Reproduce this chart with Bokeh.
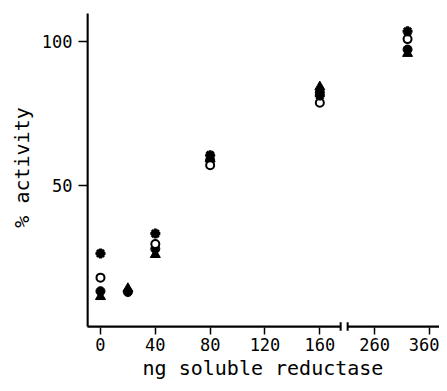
from bokeh.plotting import figure
from bokeh.models import Range1d, FixedTicker
from bokeh.embed import file_html
from bokeh.resources import INLINE

# ---- data (ng soluble reductase vs % activity) ----
ng_star = [0, 40, 80, 160, 320]
act_star = [26.4, 33.3, 60.5, 81.2, 103.5]

ng_open = [0, 40, 80, 160, 320]
act_open = [18.0, 29.7, 57.0, 78.7, 100.8]

ng_fcirc = [0, 20, 40, 80, 160, 320]
act_fcirc = [13.3, 13.0, 28.0, 58.8, 82.3, 97.2]

ng_tri = [0, 20, 40, 80, 160, 320]
act_tri = [11.4, 14.2, 26.0, 59.2, 84.2, 95.8]

tick_ng = [0, 40, 80, 120, 160, 260, 360]
y_ticks = [50, 100]

x_title = "ng soluble reductase"
y_title = "% activity"

# broken axis: values above the break are compressed
BREAK_LO_VAL = 160   # last value before the break
BREAK_HI_VAL = 260   # first value after the break
BREAK_POS = 200      # axis position of BREAK_HI_VAL
UPPER_SCALE = 0.4    # axis units per ng above the break
GAP = (175.2, 180.3) # axis positions of the break marks


def pos(v):
    if v <= BREAK_LO_VAL:
        return v
    return BREAK_POS + (v - BREAK_HI_VAL) * UPPER_SCALE


def posl(vals):
    return [pos(v) for v in vals]


FONT = "DejaVu Sans Mono"
X0, X1 = -10.2, 247.3
Y0, Y1 = -1.74, 114.2

p = figure(width=439, height=383, output_backend="svg", toolbar_location=None,
           x_range=Range1d(X0, X1), y_range=Range1d(Y0, Y1),
           min_border_left=86, min_border_right=0, min_border_top=0,
           min_border_bottom=49)
p.outline_line_color = None
p.grid.visible = False
p.background_fill_color = "white"
p.border_fill_color = "white"

# axes: labels and ticks from bokeh, lines drawn by hand (broken axis)
tick_pos = posl(tick_ng)
p.xaxis.ticker = FixedTicker(ticks=tick_pos)
p.xaxis.major_label_overrides = {tp: str(t) for tp, t in zip(tick_pos, tick_ng)}
p.xaxis.axis_line_color = None
p.xaxis.major_tick_in = 7
p.xaxis.major_tick_out = 0
p.xaxis.major_tick_line_width = 1.5
p.xaxis.minor_tick_line_color = None
p.xaxis.major_label_standoff = 3
p.xaxis.axis_label = x_title
p.xaxis.axis_label_standoff = 2

p.yaxis.ticker = FixedTicker(ticks=y_ticks)
p.yaxis.axis_line_color = None
p.yaxis.major_tick_in = 1
p.yaxis.major_tick_out = 8
p.yaxis.major_tick_line_width = 1.5
p.yaxis.minor_tick_line_color = None
p.yaxis.major_label_standoff = 6
p.yaxis.axis_label = y_title
p.yaxis.axis_label_standoff = 5

for ax in (p.xaxis, p.yaxis):
    ax.major_label_text_font = FONT
    ax.major_label_text_font_size = "17px"
    ax.major_label_text_color = "black"
    ax.axis_label_text_font = FONT
    ax.axis_label_text_font_size = "20px"
    ax.axis_label_text_font_style = "normal"
    ax.axis_label_text_color = "black"
    ax.major_tick_line_color = "black"

# hand-drawn axis lines
yaxis_u = -9.5
xaxis_v = 1.0
p.segment(x0=[yaxis_u], y0=[xaxis_v], x1=[yaxis_u], y1=[109.7],
          line_color="black", line_width=2.5)
p.segment(x0=[yaxis_u, GAP[1]], y0=[xaxis_v, xaxis_v],
          x1=[GAP[0], X1], y1=[xaxis_v, xaxis_v],
          line_color="black", line_width=2.2)
p.segment(x0=list(GAP), y0=[-0.4, -0.4], x1=list(GAP), y1=[2.5, 2.5],
          line_color="black", line_width=2)

# data
p.scatter(posl(ng_tri), act_tri, marker="triangle", size=10,
          fill_color="black", line_color="black")
p.scatter(posl(ng_fcirc), act_fcirc, marker="circle", size=9,
          fill_color="black", line_color="black")
p.scatter(posl(ng_open), act_open, marker="circle", size=8,
          fill_color="white", line_color="black", line_width=2)
p.scatter(posl(ng_star), act_star, marker="asterisk", size=10,
          line_color="black", line_width=3)

open("out.html", "w").write(file_html(p, INLINE))
